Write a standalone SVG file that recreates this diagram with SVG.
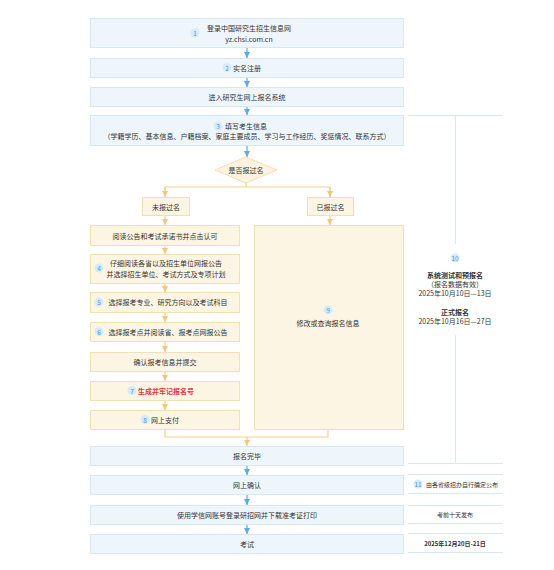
<svg xmlns="http://www.w3.org/2000/svg" width="554" height="570" viewBox="0 0 554 570">
<defs>
<style>
text{font-family:"Noto Sans CJK SC","Noto Sans",sans-serif;font-size:7px;fill:#333;text-anchor:middle;dominant-baseline:central}
.bb{fill:#eef6fc;stroke:#d3e8f8;stroke-width:1}
.ob{fill:#fdf5e3;stroke:#f2dfb4;stroke-width:1}
.bl{stroke:#5ba8ee;stroke-width:1.2;fill:none}
.ol{stroke:#f3cf8e;stroke-width:1.2;fill:none}
.rl{stroke:#d6e8f6;stroke-width:1;fill:none}
.bd{fill:#d7eafb}
.bn{fill:#4a94e2;font-size:6.5px}
.red{fill:#e8343a;font-weight:bold}
.b{font-weight:bold}
</style>
<marker id="ab" viewBox="0 0 8 8" refX="8" refY="4" markerWidth="6" markerHeight="6" markerUnits="userSpaceOnUse" orient="auto"><path d="M0,0 L8,4 L0,8 z" fill="#5ba8ee"/></marker>
<marker id="ao" viewBox="0 0 8 8" refX="8" refY="4" markerWidth="6" markerHeight="6" markerUnits="userSpaceOnUse" orient="auto"><path d="M0,0 L8,4 L0,8 z" fill="#f3c57f"/></marker>
</defs>
<rect width="554" height="570" fill="#ffffff"/>

<g id="connectors">
<line class="bl" x1="247" y1="47" x2="247" y2="58" marker-end="url(#ab)"/>
<line class="bl" x1="247" y1="77" x2="247" y2="87" marker-end="url(#ab)"/>
<line class="bl" x1="247" y1="107" x2="247" y2="115" marker-end="url(#ab)"/>
<line class="bl" x1="247" y1="145" x2="247" y2="157" marker-end="url(#ab)"/>
<polyline class="ol" points="246,183 246,187"/>
<polyline class="ol" points="165,197 165,187 330,187 330,197"/>
<line class="ol" x1="165" y1="187" x2="165" y2="197" marker-end="url(#ao)"/>
<line class="ol" x1="330" y1="187" x2="330" y2="197" marker-end="url(#ao)"/>
<line class="ol" x1="165" y1="215" x2="165" y2="225" marker-end="url(#ao)"/>
<line class="ol" x1="330" y1="215" x2="330" y2="225" marker-end="url(#ao)"/>
<line class="ol" x1="165" y1="245" x2="165" y2="254" marker-end="url(#ao)"/>
<line class="ol" x1="165" y1="283" x2="165" y2="292" marker-end="url(#ao)"/>
<line class="ol" x1="165" y1="312" x2="165" y2="322" marker-end="url(#ao)"/>
<line class="ol" x1="165" y1="341" x2="165" y2="352" marker-end="url(#ao)"/>
<line class="ol" x1="165" y1="371" x2="165" y2="381" marker-end="url(#ao)"/>
<line class="ol" x1="165" y1="400" x2="165" y2="410" marker-end="url(#ao)"/>
<polyline class="ol" points="165,429 165,437 328,437 328,429"/>
<line class="ol" x1="247" y1="437" x2="247" y2="446" marker-end="url(#ao)"/>
<line class="bl" x1="247" y1="465" x2="247" y2="475" marker-end="url(#ab)"/>
<line class="bl" x1="247" y1="494" x2="247" y2="505" marker-end="url(#ab)"/>
<line class="bl" x1="247" y1="524" x2="247" y2="534" marker-end="url(#ab)"/>
</g>

<g id="n1"><rect class="bb" x="90.5" y="18.5" width="313" height="29"/>
<circle class="bd" cx="195" cy="33" r="4.5"/><text class="bn" x="195" y="33">1</text>
<text x="249" y="28">登录中国研究生招生信息网</text><text x="249" y="39">yz.chsi.com.cn</text></g>

<g id="n2"><rect class="bb" x="90.5" y="58.5" width="313" height="19"/>
<circle class="bd" cx="227" cy="67.5" r="4.5"/><text class="bn" x="227" y="67.5">2</text>
<text x="247" y="67.5">实名注册</text></g>

<g id="n3"><rect class="bb" x="90.5" y="87.5" width="313" height="19"/>
<text x="247" y="97">进入研究生网上报名系统</text></g>

<g id="n4"><rect class="bb" x="90.5" y="115.5" width="313" height="30"/>
<circle class="bd" cx="218" cy="126" r="4.5"/><text class="bn" x="218" y="126">3</text>
<text x="246" y="126">填写考生信息</text>
<text x="247" y="136">（学籍学历、基本信息、户籍档案、家庭主要成员、学习与工作经历、奖惩情况、联系方式）</text></g>

<g id="n5"><polygon points="246,157 277,170 246,183 215,170" fill="#fdf3df" stroke="#f2dfb4" stroke-width="1"/>
<text x="246" y="170">是否报过名</text></g>

<g id="n6"><rect class="ob" x="142.5" y="197.5" width="47" height="18"/><text x="166" y="206.5">未报过名</text></g>
<g id="n7"><rect class="ob" x="307.5" y="197.5" width="46" height="18"/><text x="330.5" y="206.5">已报过名</text></g>

<g id="n8"><rect class="ob" x="90.5" y="225.5" width="149" height="20"/><text x="165" y="235.5">阅读公告和考试承诺书并点击认可</text></g>
<g id="n9"><rect class="ob" x="90.5" y="254.5" width="149" height="29"/>
<circle class="bd" cx="99" cy="268" r="4.5"/><text class="bn" x="99" y="268">4</text>
<text x="166" y="263">仔细阅读各省以及招生单位网报公告</text><text x="166" y="274">并选择招生单位、考试方式及专项计划</text></g>
<g id="n10"><rect class="ob" x="90.5" y="292.5" width="149" height="20"/>
<circle class="bd" cx="99" cy="302" r="4.5"/><text class="bn" x="99" y="302">5</text>
<text x="168" y="302">选择报考专业、研究方向以及考试科目</text></g>
<g id="n11"><rect class="ob" x="90.5" y="322.5" width="149" height="19"/>
<circle class="bd" cx="99" cy="331.5" r="4.5"/><text class="bn" x="99" y="331.5">6</text>
<text x="168" y="331.5">选择报考点并阅读省、报考点网报公告</text></g>
<g id="n12"><rect class="ob" x="90.5" y="352.5" width="149" height="19"/><text x="165" y="361.5">确认报考信息并提交</text></g>
<g id="n13"><rect class="ob" x="90.5" y="381.5" width="149" height="19"/>
<circle class="bd" cx="132" cy="390.5" r="4.5"/><text class="bn" x="132" y="390.5">7</text>
<text class="red" x="166" y="390.5">生成并牢记报名号</text></g>
<g id="n14"><rect class="ob" x="90.5" y="410.5" width="149" height="19"/>
<circle class="bd" cx="145" cy="419.5" r="4.5"/><text class="bn" x="145" y="419.5">8</text>
<text x="165" y="419.5">网上支付</text></g>

<g id="n15"><rect class="ob" x="254.5" y="225.5" width="149" height="204"/>
<circle class="bd" cx="328" cy="310" r="4.5"/><text class="bn" x="328" y="310">9</text>
<text x="328" y="323">修改或查询报名信息</text></g>

<g id="n16"><rect class="bb" x="90.5" y="446.5" width="313" height="19"/><text x="247" y="455.5">报名完毕</text></g>
<g id="n17"><rect class="bb" x="90.5" y="475.5" width="313" height="19"/><text x="247" y="484.5">网上确认</text></g>
<g id="n18"><rect class="bb" x="90.5" y="505.5" width="313" height="19"/><text x="247" y="514.5">使用学信网账号登录研招网并下载准考证打印</text></g>
<g id="n19"><rect class="bb" x="90.5" y="534.5" width="313" height="19"/><text x="247" y="543.5">考试</text></g>

<g id="n20">
<line class="rl" x1="408" y1="115.5" x2="503" y2="115.5"/>
<line class="rl" x1="455.5" y1="115.5" x2="455.5" y2="244"/>
<line class="rl" x1="455.5" y1="335" x2="455.5" y2="463.5"/>
<line class="rl" x1="408" y1="463.5" x2="503" y2="463.5"/>
<circle class="bd" cx="455" cy="258" r="4.5"/><text class="bn" x="455" y="258">10</text>
<text class="b" x="455" y="275">系统测试和预报名</text>
<text x="455" y="284">（报名数据有效）</text>
<text x="455" y="293">2025年10月10日—13日</text>
<text class="b" x="455" y="312">正式报名</text>
<text x="455" y="321">2025年10月16日—27日</text>
</g>
<g id="n21">
<line class="rl" x1="408" y1="474.5" x2="503" y2="474.5"/>
<line class="rl" x1="408" y1="493.5" x2="503" y2="493.5"/>
<circle class="bd" cx="418" cy="484" r="4.5"/><text class="bn" x="418" y="484">11</text>
<text x="462" y="484" style="font-size:6px">由各省级招办自行确定公布</text>
</g>
<g id="n22">
<line class="rl" x1="408" y1="505.5" x2="503" y2="505.5"/>
<line class="rl" x1="408" y1="523.5" x2="503" y2="523.5"/>
<text x="455" y="514" style="font-size:6px">考前十天发布</text>
</g>
<g id="n23">
<line class="rl" x1="408" y1="533.5" x2="503" y2="533.5"/>
<line class="rl" x1="408" y1="552.5" x2="503" y2="552.5"/>
<text class="b" x="455" y="543" style="font-size:6px">2025年12月20日-21日</text>
</g>
</svg>
